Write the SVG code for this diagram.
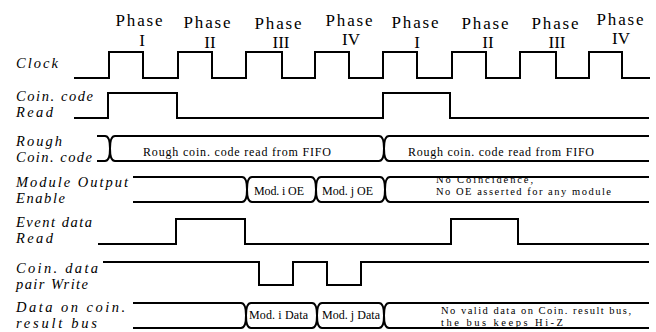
<svg xmlns="http://www.w3.org/2000/svg" width="656" height="332" viewBox="0 0 656 332">
<style>
.sig{fill:none;stroke:#000;stroke-width:2;stroke-linejoin:miter}
.bus{fill:none;stroke:#000;stroke-width:2;stroke-linejoin:round}
.ph{font-family:"Liberation Serif","DejaVu Serif",serif;font-size:17px;fill:#000;text-anchor:middle}
.lbl{font-family:"Liberation Serif","DejaVu Serif",serif;font-style:italic;font-size:14.5px;fill:#000}
.bt{font-family:"Liberation Serif","DejaVu Serif",serif;font-size:12px;fill:#000}
.bs{font-family:"Liberation Serif","DejaVu Serif",serif;font-size:10.5px;fill:#000}
</style>
<rect width="656" height="332" fill="#fff"/>
<g id="phases">
<text class="ph" x="139" y="26" textLength="47" lengthAdjust="spacing">Phase</text><text class="ph" x="142" y="46">I</text>
<text class="ph" x="207" y="28" textLength="47" lengthAdjust="spacing">Phase</text><text class="ph" x="210" y="48">II</text>
<text class="ph" x="278" y="29" textLength="47" lengthAdjust="spacing">Phase</text><text class="ph" x="281" y="48">III</text>
<text class="ph" x="349" y="26" textLength="47" lengthAdjust="spacing">Phase</text><text class="ph" x="351" y="45">IV</text>
<text class="ph" x="415" y="28" textLength="47" lengthAdjust="spacing">Phase</text><text class="ph" x="417" y="48">I</text>
<text class="ph" x="485" y="29" textLength="47" lengthAdjust="spacing">Phase</text><text class="ph" x="488" y="48">II</text>
<text class="ph" x="555" y="29" textLength="47" lengthAdjust="spacing">Phase</text><text class="ph" x="557" y="48">III</text>
<text class="ph" x="620" y="25" textLength="47" lengthAdjust="spacing">Phase</text><text class="ph" x="621" y="44">IV</text>
</g>
<g id="labels">
<text class="lbl" x="16" y="68" textLength="42" lengthAdjust="spacing">Clock</text>
<text class="lbl" x="16" y="101" textLength="77" lengthAdjust="spacing">Coin. code</text>
<text class="lbl" x="16" y="117" textLength="37" lengthAdjust="spacing">Read</text>
<text class="lbl" x="16" y="146" textLength="46" lengthAdjust="spacing">Rough</text>
<text class="lbl" x="16" y="162" textLength="76" lengthAdjust="spacing">Coin. code</text>
<text class="lbl" x="16" y="187" textLength="112" lengthAdjust="spacing">Module Output</text>
<text class="lbl" x="16" y="203" textLength="49" lengthAdjust="spacing">Enable</text>
<text class="lbl" x="16" y="227" textLength="76" lengthAdjust="spacing">Event data</text>
<text class="lbl" x="16" y="243" textLength="37" lengthAdjust="spacing">Read</text>
<text class="lbl" x="16" y="273" textLength="82" lengthAdjust="spacing">Coin. data</text>
<text class="lbl" x="16" y="289" textLength="72" lengthAdjust="spacing">pair Write</text>
<text class="lbl" x="16" y="312" textLength="109" lengthAdjust="spacing">Data on coin.</text>
<text class="lbl" x="16" y="328" textLength="81" lengthAdjust="spacing">result bus</text>
</g>
<g id="connectors">
<path id="clock" class="sig" d="M74,78 L109,78 L109,52 L143,52 L143,78 L178,78 L178,52 L212,52 L212,78 L246,78 L246,52 L282,52 L282,78 L315,78 L315,52 L349,52 L349,78 L383,78 L383,52 L417,52 L417,78 L452,78 L452,52 L486,52 L486,78 L520,78 L520,52 L556,52 L556,78 L589,78 L589,52 L622,52 L622,78 L650,78"/>
<path id="coin-code-read" class="sig" d="M74,118 L108,118 L108,93 L177,93 L177,118 L383,118 L383,93 L450,93 L450,118 L649,118"/>
<path id="event-data-read" class="sig" d="M98,244 L176,244 L176,219 L245,219 L245,244 L451,244 L451,219 L518,219 L518,244 L649,244"/>
<path id="coin-data-write" class="sig" d="M103,262 L259,262 L259,285 L293,285 L293,262 L327,262 L327,285 L361,285 L361,262 L649,262"/>
<g id="rough-bus" class="bus">
<path d="M97,136 L105,136 Q110,136 110,148.5 Q110,161 105,161 L97,161"/>
<path d="M115,136 Q110,136 110,148.5 Q110,161 115,161 L379,161 Q384,161 384,148.5 Q384,136 379,136 Z"/>
<path d="M649,136 L389,136 Q384,136 384,148.5 Q384,161 389,161 L649,161"/>
</g>
<g id="moe-bus" class="bus">
<path d="M133,177 L242,177 Q247,177 247,189.5 Q247,202 242,202 L133,202"/>
<path d="M252,177 Q247,177 247,189.5 Q247,202 252,202 L311,202 Q316,202 316,189.5 Q316,177 311,177 Z"/>
<path d="M321,177 Q316,177 316,189.5 Q316,202 321,202 L380,202 Q385,202 385,189.5 Q385,177 380,177 Z"/>
<path d="M649,177 L390,177 Q385,177 385,189.5 Q385,202 390,202 L649,202"/>
</g>
<g id="data-bus" class="bus">
<path d="M133,303 L241,303 Q246,303 246,315.5 Q246,328 241,328 L133,328"/>
<path d="M251,303 Q246,303 246,315.5 Q246,328 251,328 L312,328 Q317,328 317,315.5 Q317,303 312,303 Z"/>
<path d="M322,303 Q317,303 317,315.5 Q317,328 322,328 L379,328 Q384,328 384,315.5 Q384,303 379,303 Z"/>
<path d="M649,303 L389,303 Q384,303 384,315.5 Q384,328 389,328 L649,328"/>
</g>
</g>
<g id="bus-texts">
<text class="bt" x="143" y="156" textLength="188" lengthAdjust="spacing">Rough coin. code read from FIFO</text>
<text class="bt" x="408" y="156" textLength="186" lengthAdjust="spacing">Rough coin. code read from FIFO</text>
<text class="bt" x="254" y="195" textLength="50" lengthAdjust="spacing">Mod. i OE</text>
<text class="bt" x="322" y="195" textLength="51" lengthAdjust="spacing">Mod. j OE</text>
<text class="bs" x="436" y="183" textLength="97" lengthAdjust="spacing">No Coincidence,</text>
<text class="bs" x="436" y="195" textLength="175" lengthAdjust="spacing">No OE asserted for any module</text>
<text class="bt" x="249" y="319" textLength="59" lengthAdjust="spacing">Mod. i Data</text>
<text class="bt" x="322" y="319" textLength="58" lengthAdjust="spacing">Mod. j Data</text>
<text class="bs" x="441" y="314" textLength="190" lengthAdjust="spacing">No valid data on Coin. result bus,</text>
<text class="bs" x="441" y="326" textLength="122" lengthAdjust="spacing">the bus keeps Hi-Z</text>
</g>
</svg>
